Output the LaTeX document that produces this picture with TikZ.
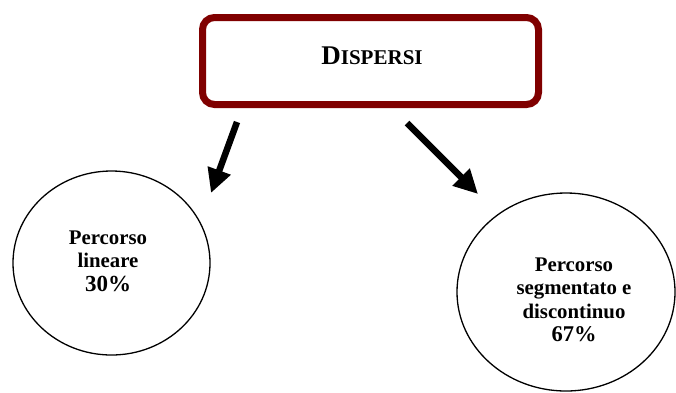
\documentclass[tikz,border=0pt]{standalone}
\usepackage{fontspec}
\setmainfont{Liberation Serif}
\usetikzlibrary{shapes.geometric,arrows.meta}
\definecolor{boxred}{RGB}{128,0,0}
\tikzset{
  titlebox/.style={draw=boxred, line width=7pt, rounded corners=12pt, minimum width=336pt, minimum height=87pt, inner sep=0pt},
  bubble/.style={draw=black, line width=1.3pt, ellipse, inner sep=0pt},
  bubbletext/.style={align=center, font=\bfseries\fontsize{20.8}{23.5}\selectfont, inner sep=0pt},
  bigarrow/.style={line width=6.5pt, -{Triangle[width=23pt,length=24pt]}}
}
\begin{document}
\begin{tikzpicture}[x=1pt,y=-1pt]
\useasboundingbox (0,0) rectangle (676,392);
\node[titlebox] (box) at (370.5,61) {};
\node[font=\bfseries, inner sep=0pt] (title) at (372,56) {{\fontsize{27}{27}\selectfont D}{\fontsize{21}{21}\selectfont ISPERSI}};
\node[bubble, minimum width=197pt, minimum height=184pt] (c1) at (111.5,263) {};
\node[bubble, minimum width=218pt, minimum height=198pt] (c2) at (566,292) {};
\node[bubbletext] (t1) at (108,261) {Percorso\\lineare\\{\fontsize{23}{23}\selectfont 30\%}};
\node[bubbletext] (t2) at (574,300) {Percorso\\segmentato e\\discontinuo\\{\fontsize{22.5}{23}\selectfont 67\%}};
\coordinate (a1s) at (237,122);
\coordinate (a1e) at (211,193);
\coordinate (a2s) at (407,123);
\coordinate (a2e) at (478,194);
\draw[bigarrow] (a1s) -- (a1e);
\draw[bigarrow] (a2s) -- (a2e);
\end{tikzpicture}
\end{document}
